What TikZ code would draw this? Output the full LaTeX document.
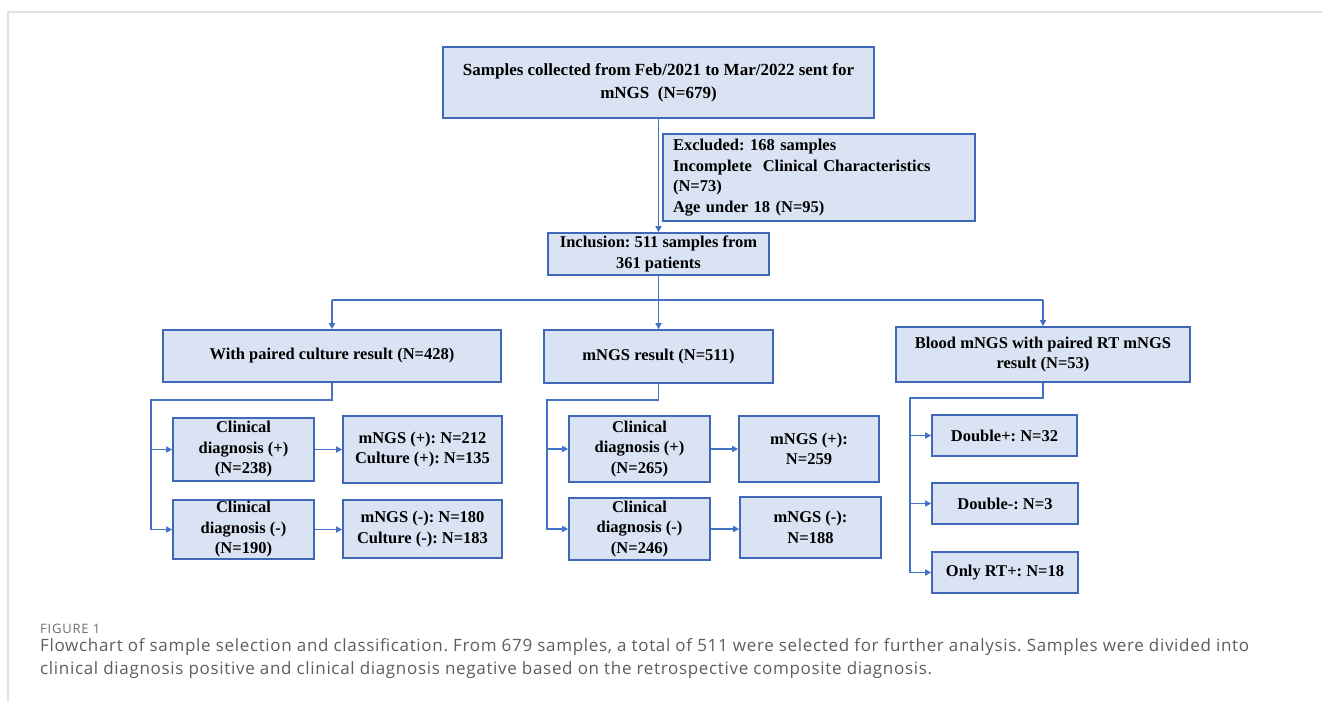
\documentclass[tikz,border=0pt]{standalone}
\usepackage{fontspec}
\setmainfont{Liberation Serif}
\newfontfamily\capfont[LetterSpace=4]{Open Sans}
\newfontfamily\figfont[LetterSpace=6]{Open Sans}
\usetikzlibrary{arrows.meta}
\definecolor{boxfill}{HTML}{DAE3F3}
\definecolor{boxline}{HTML}{4068B8}
\definecolor{arr}{HTML}{4472C4}
\definecolor{framec}{HTML}{E2E2E2}
\definecolor{capc}{HTML}{5E5E5E}
\frenchspacing
\tikzset{
  box/.style={draw=boxline, line width=1.6pt, fill=boxfill, inner sep=0pt, align=center,
    font=\fontsize{16.5}{20.5}\selectfont\bfseries},
  conn/.style={draw=arr, line width=1.4pt},
  arrw/.style={conn, -{Triangle[length=6pt,width=6pt]}}
}
\begin{document}
\begin{tikzpicture}[x=1pt,y=-1pt]
\useasboundingbox (0,0) rectangle (1322,702);
\fill[white] (0,0) rectangle (1322,702);
\draw[framec, line width=2pt] (1322,12) -- (8,12) -- (8,702);
% nodes
\node[box, minimum width=431pt, minimum height=71pt, font=\fontsize{17}{23}\selectfont\bfseries] (top) at (658.5,82.5)
  {\raisebox{-3pt}{\begin{tabular}{@{}c@{}}Samples collected from Feb/2021 to Mar/2022 sent for\\mNGS\ \ (N=679)\end{tabular}}};
\node[box, minimum width=312pt, minimum height=87pt, text width=292pt, align=left, inner xsep=10pt] (excl) at (819,177.5)
  {Excluded: 168 samples\\Incomplete\ \ Clinical Characteristics\\(N=73)\\Age under 18 (N=95)};
\node[box, minimum width=221pt, minimum height=42pt] (incl) at (658.5,254)
  {Inclusion: 511 samples from\\361 patients};
\node[box, minimum width=338pt, minimum height=52pt] (culture) at (332,356)
  {With paired culture result (N=428)};
\node[box, minimum width=229pt, minimum height=53pt] (mres) at (658.5,356.5)
  {mNGS result (N=511)};
\node[box, minimum width=294pt, minimum height=55pt] (blood) at (1043,354.5)
  {Blood mNGS with paired RT mNGS\\result (N=53)};
\node[box, minimum width=141pt, minimum height=63pt] (cdp1) at (243.5,449.5)
  {Clinical\\diagnosis (+)\\(N=238)};
\node[box, minimum width=159pt, minimum height=67pt] (mp1) at (422.5,449.5)
  {mNGS (+): N=212\\Culture (+): N=135};
\node[box, minimum width=141pt, minimum height=59pt] (cdn1) at (243.5,529.5)
  {Clinical\\diagnosis (-)\\(N=190)};
\node[box, minimum width=159pt, minimum height=58pt] (mn1) at (422.5,529)
  {mNGS (-): N=180\\Culture (-): N=183};
\node[box, minimum width=141pt, minimum height=66pt] (cdp2) at (639.5,449)
  {Clinical\\diagnosis (+)\\(N=265)};
\node[box, minimum width=140pt, minimum height=66pt] (mp2) at (809,449)
  {mNGS (+):\\N=259};
\node[box, minimum width=141pt, minimum height=62pt] (cdn2) at (639.5,529)
  {Clinical\\diagnosis (-)\\(N=246)};
\node[box, minimum width=141pt, minimum height=61pt] (mn2) at (810.5,527.5)
  {mNGS (-):\\N=188};
\node[box, minimum width=145pt, minimum height=41pt] (dp) at (1004.5,435.5)
  {Double+: N=32};
\node[box, minimum width=146pt, minimum height=41pt] (dm) at (1005,503.5)
  {Double-: N=3};
\node[box, minimum width=146pt, minimum height=41pt] (ort) at (1005,572.5)
  {Only RT+: N=18};
% coordinates
\coordinate (hy) at (0,300);
\coordinate (lb) at (151,400);
\coordinate (mb) at (547,400);
\coordinate (rb) at (910,398);
% connectors
\draw[arrw] (top.south) -- (incl.north);
\draw[conn] (incl.south) -- (incl.south |- hy);
\draw[conn] (culture.north |- hy) -- (blood.north |- hy);
\draw[arrw] (culture.north |- hy) -- (culture.north);
\draw[arrw] (mres.north |- hy) -- (mres.north);
\draw[arrw] (blood.north |- hy) -- (blood.north);
\draw[arrw] (culture.south) |- (lb) |- (cdn1.west);
\draw[arrw] (lb |- cdp1.west) -- (cdp1.west);
\draw[arrw] (cdp1.east) -- (mp1.west |- cdp1.east);
\draw[arrw] (cdn1.east) -- (mn1.west |- cdn1.east);
\draw[arrw] (mres.south) |- (mb) |- (cdn2.west);
\draw[arrw] (mb |- cdp2.west) -- (cdp2.west);
\draw[arrw] (cdp2.east) -- (mp2.west |- cdp2.east);
\draw[arrw] (cdn2.east) -- (mn2.west |- cdn2.east);
\draw[arrw] (blood.south) |- (rb) |- (ort.west);
\draw[arrw] (rb |- dp.west) -- (dp.west);
\draw[arrw] (rb |- dm.west) -- (dm.west);
% caption
\node[anchor=west, inner sep=0pt, text=capc!90, font=\figfont\fontsize{13}{14}\selectfont] (fig) at (40,629) {FIGURE 1};
\node[anchor=north west, inner sep=0pt, text=capc, align=left, font=\capfont\fontsize{17}{23}\selectfont] (cap) at (40,638)
  {Flowchart of sample selection and classification. From 679 samples, a total of 511 were selected for further analysis. Samples were divided into\\clinical diagnosis positive and clinical diagnosis negative based on the retrospective composite diagnosis.};
\end{tikzpicture}
\end{document}
